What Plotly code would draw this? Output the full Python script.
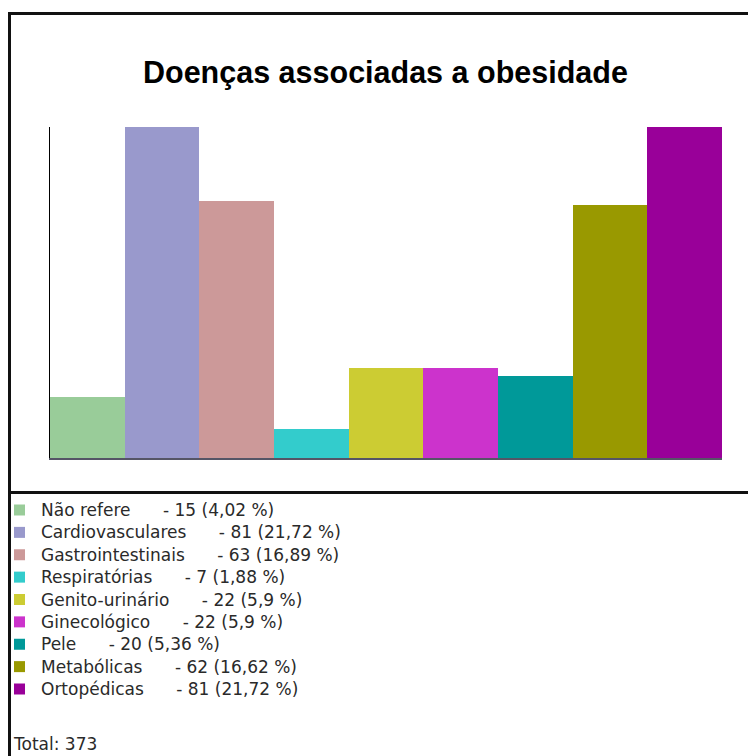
import plotly.graph_objects as go

# ---- data ----
categories = ["Não refere", "Cardiovasculares", "Gastrointestinais", "Respiratórias",
              "Genito-urinário", "Ginecológico", "Pele", "Metabólicas", "Ortopédicas"]
values = [15, 81, 63, 7, 22, 22, 20, 62, 81]
percent_labels = ["4,02", "21,72", "16,89", "1,88", "5,9", "5,9", "5,36", "16,62", "21,72"]
colors = ["#99CC99", "#9999CC", "#CC9999", "#33CCCC", "#CCCC33",
          "#CC33CC", "#009999", "#999900", "#990099"]
title_text = "Doenças associadas a obesidade"
total_prefix = "Total: "

# ---- layout helpers (pixel -> paper) ----
W, H = 748, 756
def px(x):
    return x / W
def py(y):
    return 1 - y / H

fig = go.Figure()
fig.add_trace(go.Bar(
    x=categories, y=values,
    marker=dict(color=colors, line=dict(width=0)),
    showlegend=False, hoverinfo="x+y",
))

shapes = []
annotations = []

# frame
frame_col = "#111111"
shapes.append(dict(type="line", xref="paper", yref="paper",
                   x0=px(9), x1=px(760), y0=py(13.5), y1=py(13.5),
                   line=dict(color=frame_col, width=3)))
shapes.append(dict(type="line", xref="paper", yref="paper",
                   x0=px(9.5), x1=px(9.5), y0=py(12), y1=py(770),
                   line=dict(color=frame_col, width=3)))
shapes.append(dict(type="line", xref="paper", yref="paper",
                   x0=px(9), x1=px(760), y0=py(492.5), y1=py(492.5),
                   line=dict(color=frame_col, width=3)))

# title
annotations.append(dict(xref="paper", yref="paper", x=px(386), y=py(73),
                        xanchor="center", yanchor="middle", showarrow=False,
                        text="<b>" + title_text + "</b>",
                        font=dict(family="Liberation Sans", size=30.5, color="#000000")))

# custom legend
row0, step = 510, 22.375
for i, (cat, val, pct, col) in enumerate(zip(categories, values, percent_labels, colors)):
    c = row0 + i * step
    shapes.append(dict(type="rect", xref="paper", yref="paper",
                       x0=px(14), x1=px(25), y0=py(c + 5.5), y1=py(c - 5.5),
                       fillcolor=col, line=dict(width=0)))
    annotations.append(dict(xref="paper", yref="paper", x=px(39), y=py(c),
                            xanchor="left", yanchor="middle", showarrow=False,
                            text=f"{cat}      - {val} ({pct} %)",
                            font=dict(family="DejaVu Sans", size=17, color="#2a2a2a")))

annotations.append(dict(xref="paper", yref="paper", x=px(11), y=py(744),
                        xanchor="left", yanchor="middle", showarrow=False,
                        text=f"{total_prefix}{sum(values)}",
                        font=dict(family="DejaVu Sans", size=17, color="#2a2a2a")))

fig.update_layout(
    width=W, height=H,
    margin=dict(l=0, r=0, t=0, b=0),
    paper_bgcolor="white", plot_bgcolor="white",
    bargap=0,
    shapes=shapes, annotations=annotations,
    xaxis=dict(domain=[px(50), px(722)], range=[-0.5, len(categories) - 0.5],
               showticklabels=False, ticks="", showgrid=False, zeroline=False,
               showline=True, linecolor="#555566", linewidth=1.5),
    yaxis=dict(domain=[py(458), py(127)], range=[0, max(values)],
               showticklabels=False, ticks="", showgrid=False, zeroline=False,
               showline=True, linecolor="#000000", linewidth=1),
    font=dict(family="DejaVu Sans"),
)

fig.write_html("out.html", config={"displayModeBar": False},
               post_script="document.body.style.margin='0';document.body.style.overflow='hidden';")
